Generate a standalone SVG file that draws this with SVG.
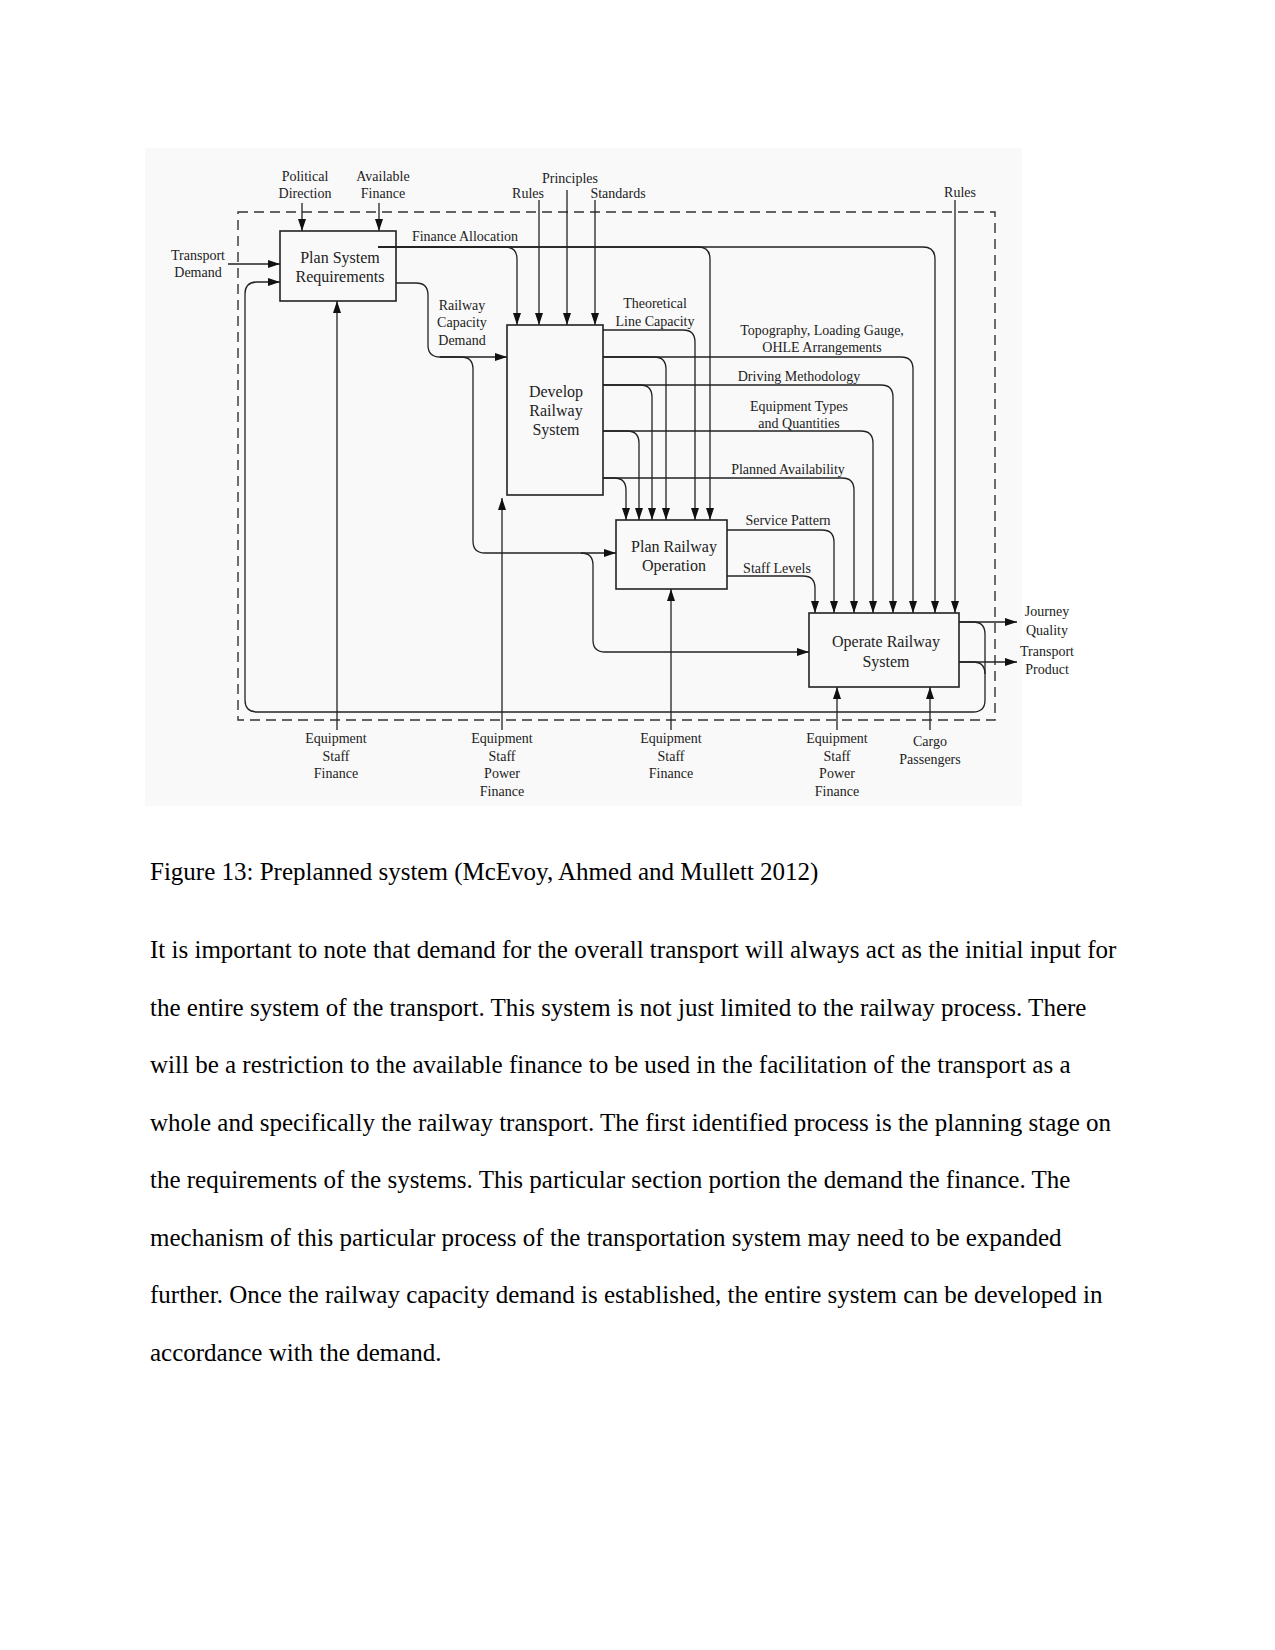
<svg xmlns="http://www.w3.org/2000/svg" width="1275" height="1650" viewBox="0 0 1275 1650">
<style>
.lbl{font-family:"Liberation Serif","Times New Roman",serif;font-size:14px;fill:#222;text-anchor:middle}
.box{fill:none;stroke:#222;stroke-width:1.6}
.btx{font-family:"Liberation Serif","Times New Roman",serif;font-size:16px;fill:#222;text-anchor:middle}
.c{fill:none;stroke:#222;stroke-width:1.3}
.a{marker-end:url(#ah)}
.body{font-family:"Liberation Serif","Times New Roman",serif;font-size:25px;fill:#000}
</style>
<defs>
<marker id="ah" markerWidth="12" markerHeight="8" refX="12" refY="4" orient="auto" markerUnits="userSpaceOnUse"><path d="M0,0 L12,4 L0,8 z" fill="#111"/></marker>
</defs>
<rect width="1275" height="1650" fill="#fff"/>
<rect x="145" y="148" width="877" height="658" fill="#f9f9f9"/>
<rect id="boundary" x="238" y="212" width="757" height="508" fill="none" stroke="#333" stroke-width="1.4" stroke-dasharray="10,6"/>

<g id="connectors">
<path class="c a" d="M302,203 V231"/>
<path class="c a" d="M379,203 V231"/>
<path class="c a" d="M228,264 H280"/>
<path class="c a" d="M959,622 H973 Q985,622 985,634 V700 Q985,712 973,712 H257 Q245,712 245,700 V294 Q245,282 257,282 H280"/>
<path class="c" d="M959,662 H973 Q985,662 985,674"/>
<path class="c a" d="M959,622 H1017"/>
<path class="c a" d="M959,662 H1017"/>
<path class="c a" d="M337,730 V301"/>
<path class="c a" d="M502,730 V498"/>
<path class="c a" d="M671,730 V589"/>
<path class="c a" d="M837,730 V687"/>
<path class="c a" d="M930,730 V687"/>
<path class="c a" d="M378,247 H505 Q517,247 517,259 V325"/>
<path class="c a" d="M378,247 H698 Q710,247 710,259 V520"/>
<path class="c a" d="M378,247 H923 Q935,247 935,259 V613"/>
<path class="c a" d="M539,200 V325"/>
<path class="c a" d="M567,190 V325"/>
<path class="c a" d="M595,200 V325"/>
<path class="c a" d="M955,200 V613"/>
<path class="c a" d="M396,283 H416 Q428,283 428,295 V345 Q428,357 440,357 H507"/>
<path class="c a" d="M440,357 H461 Q473,357 473,369 V541 Q473,553 485,553 H616"/>
<path class="c a" d="M581,553 Q593,553 593,565 V640 Q593,652 605,652 H809"/>
<path class="c a" d="M603,330 H683 Q695,330 695,342 V520"/>
<path class="c a" d="M603,357 H901 Q913,357 913,369 V613"/>
<path class="c a" d="M603,357 H654 Q666,357 666,369 V520"/>
<path class="c a" d="M603,385 H881 Q893,385 893,397 V613"/>
<path class="c a" d="M603,385 H640 Q652,385 652,397 V520"/>
<path class="c a" d="M603,431 H861 Q873,431 873,443 V613"/>
<path class="c a" d="M603,431 H627 Q639,431 639,443 V520"/>
<path class="c a" d="M603,478 H842 Q854,478 854,490 V613"/>
<path class="c a" d="M603,478 H614 Q626,478 626,490 V520"/>
<path class="c a" d="M727,530 H822 Q834,530 834,542 V613"/>
<path class="c a" d="M727,576 H803 Q815,576 815,588 V613"/>
</g>

<g id="labels">
<text class="lbl" x="305" y="181">Political</text>
<text class="lbl" x="305" y="198">Direction</text>
<text class="lbl" x="383" y="181">Available</text>
<text class="lbl" x="383" y="198">Finance</text>
<text class="lbl" x="198" y="260">Transport</text>
<text class="lbl" x="198" y="277">Demand</text>
<text class="lbl" x="465" y="241">Finance Allocation</text>
<text class="lbl" x="570" y="183">Principles</text>
<text class="lbl" x="528" y="198">Rules</text>
<text class="lbl" x="618" y="198">Standards</text>
<text class="lbl" x="960" y="197">Rules</text>
<text class="lbl" x="462" y="310">Railway</text>
<text class="lbl" x="462" y="327">Capacity</text>
<text class="lbl" x="462" y="345">Demand</text>
<text class="lbl" x="655" y="308">Theoretical</text>
<text class="lbl" x="655" y="326">Line Capacity</text>
<text class="lbl" x="822" y="335">Topography, Loading Gauge,</text>
<text class="lbl" x="822" y="352">OHLE Arrangements</text>
<text class="lbl" x="799" y="381">Driving Methodology</text>
<text class="lbl" x="799" y="411">Equipment Types</text>
<text class="lbl" x="799" y="428">and Quantities</text>
<text class="lbl" x="788" y="474">Planned Availability</text>
<text class="lbl" x="788" y="525">Service Pattern</text>
<text class="lbl" x="777" y="573">Staff Levels</text>
<text class="lbl" x="1047" y="616">Journey</text>
<text class="lbl" x="1047" y="635">Quality</text>
<text class="lbl" x="1047" y="656">Transport</text>
<text class="lbl" x="1047" y="674">Product</text>
<text class="lbl" x="336" y="743">Equipment</text>
<text class="lbl" x="336" y="761">Staff</text>
<text class="lbl" x="336" y="778">Finance</text>
<text class="lbl" x="502" y="743">Equipment</text>
<text class="lbl" x="502" y="761">Staff</text>
<text class="lbl" x="502" y="778">Power</text>
<text class="lbl" x="502" y="796">Finance</text>
<text class="lbl" x="671" y="743">Equipment</text>
<text class="lbl" x="671" y="761">Staff</text>
<text class="lbl" x="671" y="778">Finance</text>
<text class="lbl" x="837" y="743">Equipment</text>
<text class="lbl" x="837" y="761">Staff</text>
<text class="lbl" x="837" y="778">Power</text>
<text class="lbl" x="837" y="796">Finance</text>
<text class="lbl" x="930" y="746">Cargo</text>
<text class="lbl" x="930" y="764">Passengers</text>
</g>

<g id="node-plan-system">
<rect class="box" x="280" y="231" width="116" height="70" fill="#fff"/>
<text class="btx" x="340" y="263">Plan System</text>
<text class="btx" x="340" y="282">Requirements</text>
</g>
<g id="node-develop">
<rect class="box" x="507" y="325" width="96" height="170"/>
<text class="btx" x="556" y="397">Develop</text>
<text class="btx" x="556" y="416">Railway</text>
<text class="btx" x="556" y="435">System</text>
</g>
<g id="node-plan-operation">
<rect class="box" x="616" y="520" width="111" height="69"/>
<text class="btx" x="674" y="552">Plan Railway</text>
<text class="btx" x="674" y="571">Operation</text>
</g>
<g id="node-operate">
<rect class="box" x="809" y="613" width="150" height="74"/>
<text class="btx" x="886" y="647">Operate Railway</text>
<text class="btx" x="886" y="667">System</text>
</g>

<g id="text">
<text class="body" x="150" y="880">Figure 13: Preplanned system (McEvoy, Ahmed and Mullett 2012)</text>
<text class="body" x="150" y="958">It is important to note that demand for the overall transport will always act as the initial input for</text>
<text class="body" x="150" y="1015.5">the entire system of the transport. This system is not just limited to the railway process. There</text>
<text class="body" x="150" y="1073">will be a restriction to the available finance to be used in the facilitation of the transport as a</text>
<text class="body" x="150" y="1130.5">whole and specifically the railway transport. The first identified process is the planning stage on</text>
<text class="body" x="150" y="1188">the requirements of the systems. This particular section portion the demand the finance. The</text>
<text class="body" x="150" y="1245.5">mechanism of this particular process of the transportation system may need to be expanded</text>
<text class="body" x="150" y="1303">further. Once the railway capacity demand is established, the entire system can be developed in</text>
<text class="body" x="150" y="1360.5">accordance with the demand.</text>
</g>
</svg>
